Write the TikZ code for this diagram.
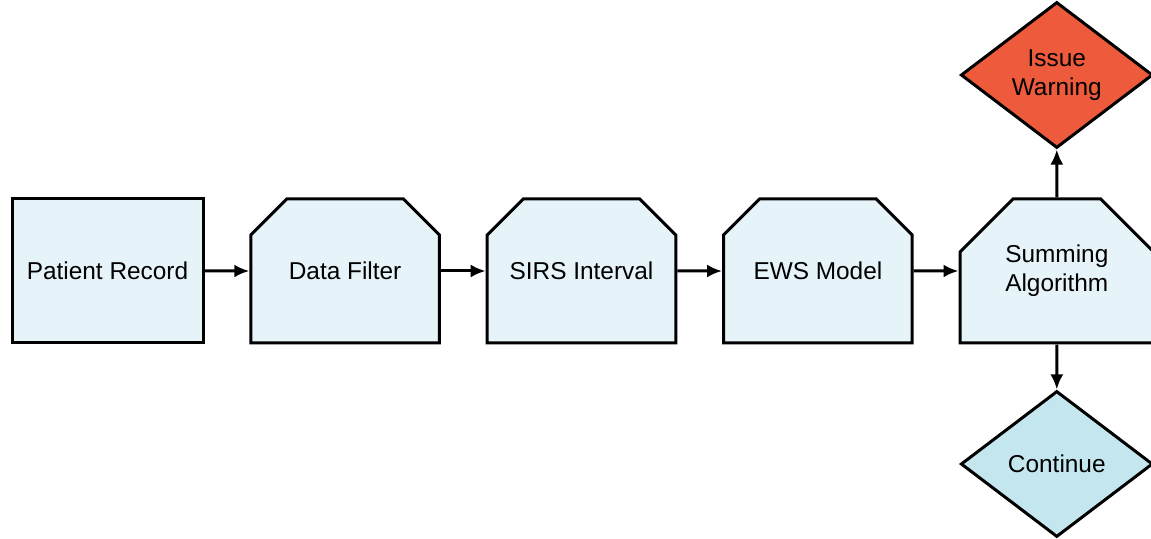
\documentclass[tikz,border=0pt]{standalone}
\usepackage{fontspec}
\setmainfont{Liberation Sans}
\usepackage{xcolor}
\usetikzlibrary{shapes, arrows.meta, positioning}

\definecolor{boxblue}{HTML}{E6F4F9}
\definecolor{goblue}{HTML}{C4E6EF}
\definecolor{warnred}{HTML}{EE5B3C}

\begin{document}
\begin{tikzpicture}[
    line width=1.5pt,
    font=\fontsize{12.2}{14.5}\selectfont,
    node distance=22.4pt,
    plainbox/.style={draw, fill=boxblue, rectangle, minimum width=95.5pt, minimum height=72pt, inner sep=0pt},
    stagebox/.style={draw, fill=boxblue, chamfered rectangle, chamfered rectangle corners={north west, north east},
        chamfered rectangle sep=13.5pt, minimum width=94.3pt, minimum height=72pt, inner sep=0pt, align=center},
    decision/.style={draw, diamond, minimum width=96pt, minimum height=73pt, inner sep=0pt, align=center},
    flow/.style={-{Latex[length=7.5pt,width=6.5pt]}}
]
    % page size, same as the scan
    \useasboundingbox (0,0) rectangle (575.5pt,-269.5pt);

    % pipeline
    \node[plainbox] (record) at (53.75pt,-135.5pt) {Patient Record};
    \node[stagebox, right=of record] (filter) {Data Filter};
    \node[stagebox, right=of filter] (sirs) {SIRS Interval};
    \node[stagebox, right=of sirs] (ews) {EWS Model};
    \node[stagebox, minimum width=96.8pt, right=of ews] (summing) {Summing\\Algorithm};

    % outcomes
    \node[decision, fill=warnred, above=24pt of summing] (warning) {Issue\\Warning};
    \node[decision, fill=goblue, below=22.5pt of summing] (continue) {Continue};

    \foreach \a/\b in {record/filter, filter/sirs, sirs/ews, ews/summing, summing/warning, summing/continue}
        \draw[flow] (\a) -- (\b);
\end{tikzpicture}
\end{document}
